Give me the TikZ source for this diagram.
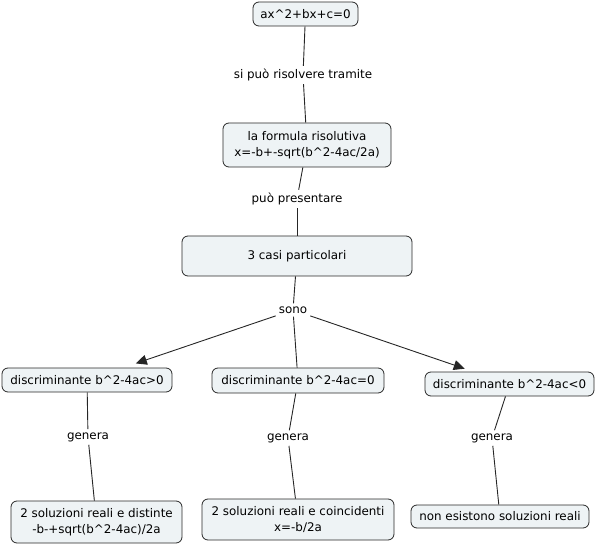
\documentclass[tikz,border=0pt]{standalone}
\usepackage{fontspec}
\setmainfont{DejaVu Sans}
\usetikzlibrary{arrows.meta}
\definecolor{conceptfill}{RGB}{238,243,245}
\definecolor{conceptdraw}{RGB}{40,40,40}
\begin{document}
\begin{tikzpicture}[x=1pt,y=-1pt,
		concept/.style={draw=conceptdraw,fill=conceptfill,rounded corners=6pt,line width=0.8pt,inner sep=0pt,align=center,font=\fontsize{11.9}{15.5}\selectfont},
		linkword/.style={inner sep=3pt,font=\fontsize{11.9}{14}\selectfont},
		link/.style={draw=black!85,line width=0.9pt},
		linkarrow/.style={link,-{Triangle[length=11pt,width=10pt]}}]
			\useasboundingbox (0,0) rectangle (597,545);
			\node[concept,minimum width=105,minimum height=24] (eq) at (305.5,14) {ax\textasciicircum2+bx+c=0};
			\node[concept,minimum width=168,minimum height=44] (formula) at (307,145) {la formula risolutiva\\x=-b+-sqrt(b\textasciicircum2-4ac/2a)};
			\node[concept,minimum width=230,minimum height=40] (casi) at (297,256) {3 casi particolari};
			\node[concept,minimum width=170,minimum height=24] (dpos) at (87,380) {discriminante b\textasciicircum2-4ac>0};
			\node[concept,minimum width=172,minimum height=25] (dzero) at (298,380.5) {discriminante b\textasciicircum2-4ac=0};
			\node[concept,minimum width=169,minimum height=24] (dneg) at (509.5,384) {discriminante b\textasciicircum2-4ac<0};
			\node[concept,minimum width=171,minimum height=42] (sdist) at (96.5,522) {2 soluzioni reali e distinte\\-b-+sqrt(b\textasciicircum2-4ac)/2a};
			\node[concept,minimum width=192,minimum height=41] (scoinc) at (298,519.5) {2 soluzioni reali e coincidenti\\x=-b/2a};
			\node[concept,minimum width=178,minimum height=23] (snone) at (500,516.5) {non esistono soluzioni reali};
			\node[linkword] (risolve) at (303,75) {si può risolvere tramite};
			\node[linkword] (presenta) at (297,199) {può presentare};
			\node[linkword] (sono) at (293,310) {sono};
			\node[linkword] (gena) at (88,437) {genera};
			\node[linkword] (genb) at (288,438) {genera};
			\node[linkword] (genc) at (492,438) {genera};
			\draw[link] (eq) -- (risolve);
			\draw[link] (risolve) -- (formula);
			\draw[link] (formula) -- (presenta);
			\draw[link] (presenta) -- (casi);
			\draw[link] (casi) -- (sono);
			\draw[linkarrow,shorten >=13pt] (sono) -- (dpos);
			\draw[link] (sono) -- (dzero);
			\draw[linkarrow,shorten >=9pt] (sono) -- (dneg);
			\draw[link] (dpos) -- (gena);
			\draw[link] (gena) -- (sdist);
			\draw[link] (dzero) -- (genb);
			\draw[link] (genb) -- (scoinc);
			\draw[link] (dneg) -- (genc);
			\draw[link] (genc) -- (snone);
\end{tikzpicture}
\end{document}
